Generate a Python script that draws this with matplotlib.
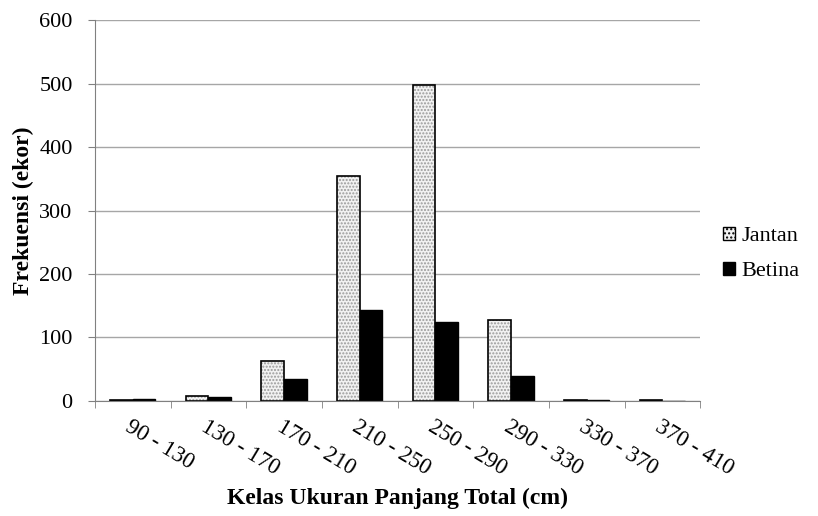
import numpy as np
import matplotlib.pyplot as plt

plt.rcParams['font.family'] = ['Liberation Serif', 'DejaVu Serif']

classes = ['90 - 130', '130 - 170', '170 - 210', '210 - 250',
           '250 - 290', '290 - 330', '330 - 370', '370 - 410']
jantan = [1, 8, 63, 355, 498, 128, 1, 1]
betina = [3, 6, 34, 143, 124, 39, 2, 0]

x = np.arange(len(classes))
w = 0.3

fig = plt.figure(figsize=(8.18, 5.16), dpi=100)
ax = fig.add_axes([0.116, 0.223, 0.74, 0.738])

ax.set_axisbelow(True)
ax.yaxis.grid(True, color='#a6a6a6', linewidth=1)

# dotted fill for Jantan, then black outline on top
ax.bar(x - w / 2, jantan, w, color='#f2f2f2', hatch='.....',
       edgecolor='#9a9a9a', linewidth=0)
ax.bar(x - w / 2, jantan, w, facecolor='none', edgecolor='black', linewidth=1.2,
       label='Jantan')
ax.bar(x + w / 2, betina, w, color='black', edgecolor='black', linewidth=1,
       label='Betina')

ax.set_xlim(-0.5, len(classes) - 0.5)
ax.set_ylim(0, 600)
ax.set_yticks(range(0, 601, 100))
ax.set_xticks(x)
ax.set_xticks(np.arange(-0.5, len(classes), 1), minor=True)
ax.tick_params(axis='x', which='major', length=0, pad=11)
ax.tick_params(axis='x', which='minor', length=5, color='#808080', direction='out')
ax.tick_params(axis='y', length=5, color='#808080', direction='out', labelsize=16, pad=11)
ax.set_xticklabels(classes, rotation=-31, ha='left', va='top',
                   rotation_mode='anchor', fontsize=16.5)

for s in ['top', 'right']:
    ax.spines[s].set_visible(False)
ax.spines['left'].set_color('#808080')
ax.spines['bottom'].set_color('#808080')

ax.set_ylabel('Frekuensi (ekor)', fontsize=17, fontweight='bold', labelpad=4)
ax.set_xlabel('Kelas Ukuran Panjang Total (cm)', fontsize=17, fontweight='bold')
ax.xaxis.set_label_coords(0.5, -0.227)

h1, l1 = ax.get_legend_handles_labels()
jh = plt.Rectangle((0, 0), 1, 1, facecolor='#f2f2f2', hatch='....', edgecolor='black')
ax.legend([jh, h1[1]], ['Jantan', 'Betina'], loc='center left',
          bbox_to_anchor=(1.005, 0.386), frameon=False, fontsize=16,
          handlelength=0.55, handleheight=0.55, handletextpad=0.25, labelspacing=0.7)

fig.savefig('out.png', dpi=100)
